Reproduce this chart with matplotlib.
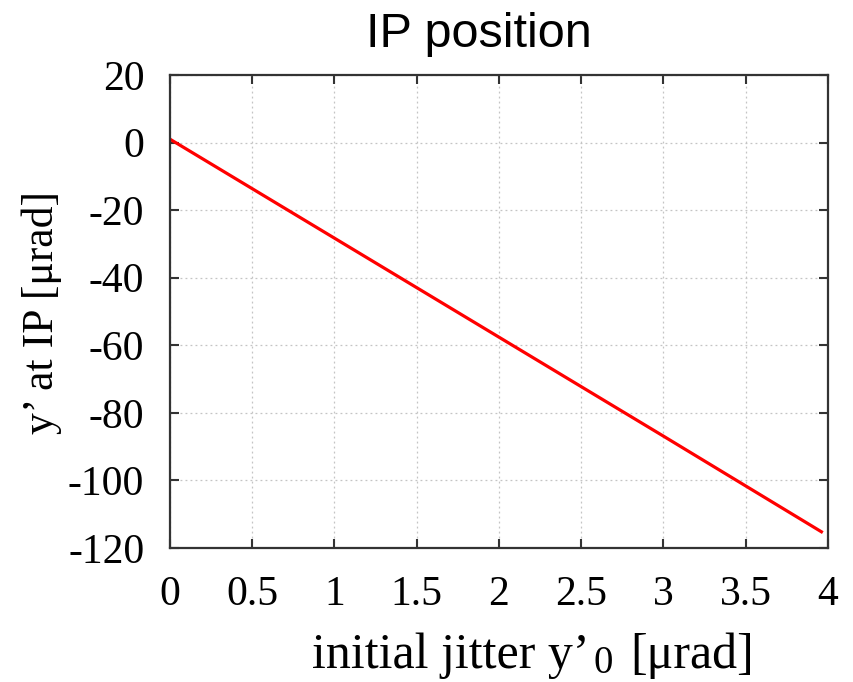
import numpy as np
import matplotlib
matplotlib.use("Agg")
import matplotlib.pyplot as plt

# values
jitter = [0.0, 1.0, 2.0, 3.0, 3.96]          # initial jitter y'_0 [urad]
yp_ip = [1.0, -28.3, -57.6, -86.9, -115.2]    # y' at IP [urad]

xticks = [0, 0.5, 1, 1.5, 2, 2.5, 3, 3.5, 4]
xtick_labels = ["0", "0.5", "1", "1.5", "2", "2.5", "3", "3.5", "4"]
yticks = [20, 0, -20, -40, -60, -80, -100, -120]

plt.rcParams['axes.unicode_minus'] = False

W, H = 854, 682
fig = plt.figure(figsize=(W / 100, H / 100), dpi=100)
ax = fig.add_axes([170 / W, 1 - 548 / H, (828 - 170) / W, (548 - 75) / H])

ax.plot(jitter, yp_ip, color='red', linewidth=2.3)

ax.set_xlim(0, 4)
ax.set_ylim(-120, 20)
ax.set_xticks(xticks)
ax.set_xticklabels(xtick_labels)
ax.set_yticks(yticks)

ax.grid(True, color='#c4c4c4', linestyle=(0, (1.5, 2.5)), linewidth=0.9)
for s in ax.spines.values():
    s.set_linewidth(1.6)
    s.set_color('#333333')

ax.tick_params(direction='in', length=6.5, width=1.5, top=True, right=True,
               labelsize=30, color='#333333')
ax.tick_params(axis='x', pad=20)
ax.tick_params(axis='y', pad=18.5)
for lab in ax.get_xticklabels() + ax.get_yticklabels():
    lab.set_family('Liberation Serif')

# title and axis labels placed like the original
fig.text(479 / W, 1 - 47 / H, "IP position", family='Liberation Sans',
         fontsize=35, ha='center', va='baseline')
fig.text(53 / W, 1 - 312 / H, "y’ at IP [μrad]", family='Liberation Serif',
         fontsize=31.5, rotation=90, rotation_mode='anchor',
         ha='center', va='baseline')

# x label built from pieces so the subscript looks like the gnuplot one
serif = dict(family='Liberation Serif', va='baseline')
renderer = fig.canvas.get_renderer()
t1 = fig.text(312 / W, 1 - 668 / H, "initial jitter y’", fontsize=36, ha='left', **serif)
x1 = t1.get_window_extent(renderer).x1
t2 = fig.text((x1 + 4) / W, 1 - 673 / H, "0", fontsize=28, ha='left', **serif)
x2 = t2.get_window_extent(renderer).x1
fig.text((x2 + 17) / W, 1 - 668 / H, "[μrad]", fontsize=36, ha='left', **serif)

fig.savefig("out.png", dpi=100)
